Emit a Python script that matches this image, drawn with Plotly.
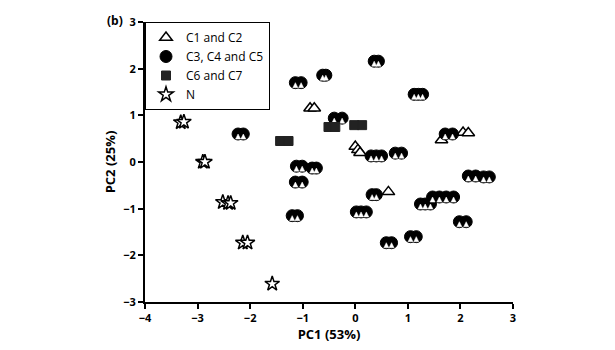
import plotly.graph_objects as go

# PCA scores, grouped by class
c12_x = [-0.86, -0.78, 0.0, 0.05, 0.09, 0.63, 1.64, 2.05, 2.15]
c12_y = [1.15, 1.15, 0.33, 0.26, 0.20, -0.64, 0.47, 0.63, 0.62]

c345_x = [-2.23, -2.13, -1.14, -1.03, -0.62, -0.56, 0.36, 0.44,
          1.12, 1.20, 1.28, -0.40, -0.25, 0.30, 0.40, 0.50,
          0.76, 0.88, -1.12, -1.01, -0.82, -0.74, -1.14, -1.01,
          -1.20, -1.10, 0.32, 0.40, 0.02, 0.11, 0.21, 1.05, 1.16,
          0.59, 0.69, 1.71, 1.85, 2.15, 2.29, 2.44, 2.55,
          1.47, 1.60, 1.73, 1.87, 1.24, 1.33, 1.43, 1.98, 2.11]
c345_y = [0.60, 0.60, 1.70, 1.70, 1.86, 1.86, 2.16, 2.16,
          1.45, 1.45, 1.45, 0.94, 0.94, 0.13, 0.13, 0.13,
          0.19, 0.19, -0.09, -0.09, -0.13, -0.13, -0.43, -0.43,
          -1.15, -1.15, -0.70, -0.70, -1.07, -1.07, -1.07, -1.60, -1.60,
          -1.73, -1.73, 0.60, 0.60, -0.30, -0.30, -0.32, -0.32,
          -0.75, -0.75, -0.75, -0.75, -0.90, -0.90, -0.90, -1.28, -1.28]

c67_x = [-1.43, -1.27, -0.51, -0.38, -0.02, 0.13]
c67_y = [0.45, 0.45, 0.75, 0.75, 0.79, 0.79]

n_x = [-3.32, -3.26, -2.90, -2.86, -2.52, -2.42, -2.37, -2.14, -2.05, -1.58]
n_y = [0.85, 0.86, 0.0, 0.0, -0.86, -0.88, -0.88, -1.73, -1.73, -2.61]

x_ticks = [-4, -3, -2, -1, 0, 1, 2, 3]
y_ticks = [-3, -2, -1, 0, 1, 2, 3]

FONT = "Open Sans"

fig = go.Figure()

fig.add_trace(go.Scatter(
    x=c12_x, y=c12_y, mode="markers", name="C1 and C2",
    marker=dict(symbol="triangle-up", size=11, color="white",
                line=dict(color="black", width=1.5)),
))
fig.add_trace(go.Scatter(
    x=c345_x, y=c345_y, mode="markers", name="C3, C4 and C5",
    marker=dict(symbol="circle", size=12, color="black",
                line=dict(color="black", width=1)),
))
# white patch in the lower half of each C3-C5 marker
# (arrow-up symbol: tip at the point, body below it)
fig.add_trace(go.Scatter(
    x=c345_x, y=c345_y, mode="markers", showlegend=False, hoverinfo="skip",
    marker=dict(symbol="arrow-up", size=5, color="white",
                line=dict(color="white", width=0.5)),
))
fig.add_trace(go.Scatter(
    x=c67_x, y=c67_y, mode="markers", name="C6 and C7",
    marker=dict(symbol="square", size=9, color="#222222",
                line=dict(color="#222222", width=1)),
))
fig.add_trace(go.Scatter(
    x=n_x, y=n_y, mode="markers", name="N",
    marker=dict(symbol="star", size=11, color="white",
                line=dict(color="black", width=1.5)),
))

axis_common = dict(
    showgrid=False, zeroline=False, showline=True, linecolor="black",
    linewidth=2, ticks="outside", ticklen=5, tickwidth=2, tickcolor="black",
    tickfont=dict(family=FONT, size=11, color="black", weight="bold"),
)

fig.update_xaxes(range=[-4, 3], tickvals=x_ticks, **axis_common,
                 title=dict(text="PC1 (53%)", standoff=4,
                            font=dict(family=FONT, size=13, color="black", weight="bold")))
fig.update_yaxes(range=[-3, 3], tickvals=y_ticks, **axis_common,
                 title=dict(text="PC2 (25%)", standoff=5,
                            font=dict(family=FONT, size=13, color="black", weight="bold")))

fig.update_layout(
    width=615, height=350,
    margin=dict(l=145, r=102, t=22, b=46),
    plot_bgcolor="white", paper_bgcolor="white",
    font=dict(family=FONT, color="black"),
    legend=dict(
        x=0.0, y=1.0, xanchor="left", yanchor="top",
        bgcolor="white", bordercolor="black", borderwidth=1,
        font=dict(family=FONT, size=12, color="black"),
        tracegroupgap=0, itemwidth=30,
    ),
    annotations=[dict(
        text="<b>(b)</b>", xref="paper", yref="paper", x=-0.082, y=1.007,
        xanchor="center", yanchor="middle", showarrow=False,
        font=dict(family=FONT, size=12, color="black"),
    )],
)

fig.write_html("out.html")
